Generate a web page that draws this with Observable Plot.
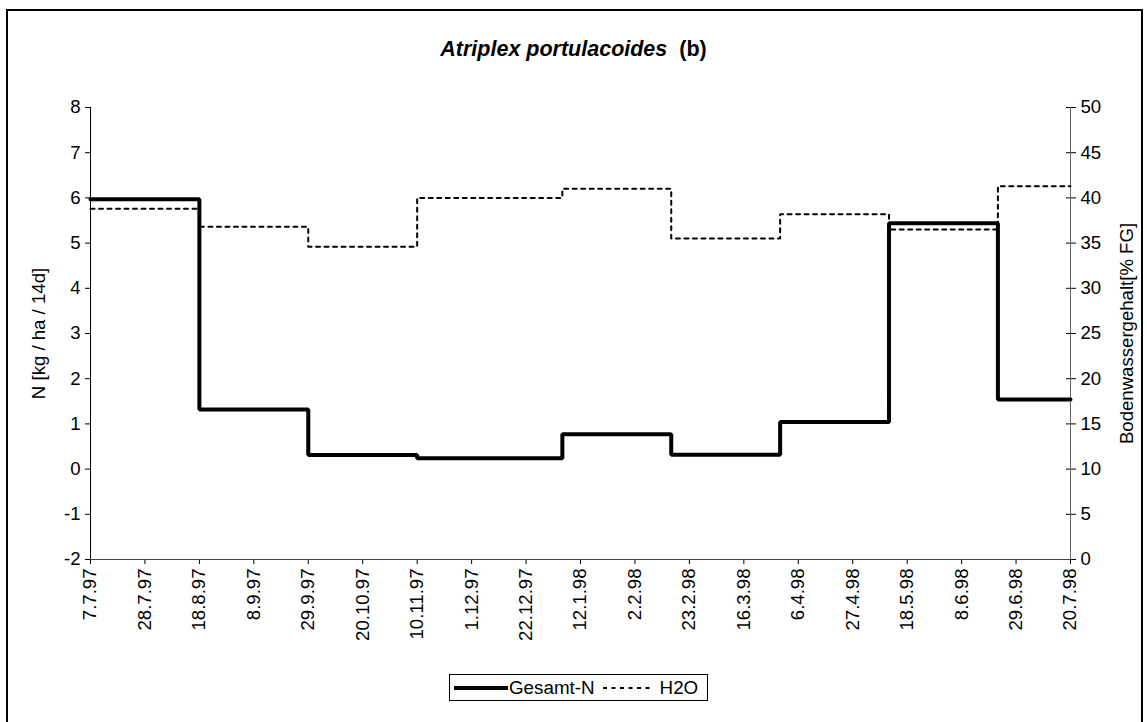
<!DOCTYPE html>
<html><head><meta charset="utf-8">
<script src="https://cdn.jsdelivr.net/npm/d3@7"></script>
<script src="https://cdn.jsdelivr.net/npm/@observablehq/plot@0.6"></script>
<style>
body{margin:0;background:#fff;font-family:"Liberation Sans",Arial,sans-serif;color:#000;}
#frame{position:absolute;left:6px;top:9px;width:1133px;height:711px;border:2px solid #000;}
#chart{position:absolute;left:0;top:0;}
#title{position:absolute;left:0;width:1147px;top:39px;text-align:center;font-size:21.5px;line-height:1;font-weight:bold;white-space:pre;}
#legend{position:absolute;left:449px;top:674px;width:259px;height:27px;border:1px solid #000;box-sizing:border-box;display:flex;align-items:center;font-size:18.8px;white-space:nowrap;background:#fff;}
#legend svg{display:block;}
</style>
</head><body>
<div id="frame"></div>
<div id="chart"></div>
<div id="title"><i>Atriplex portulacoides</i>  (b)</div>
<div id="legend"></div>
<script>
// ---- data ----
const xTickLabels = ["7.7.97","28.7.97","18.8.97","8.9.97","29.9.97","20.10.97","10.11.97","1.12.97","22.12.97","12.1.98","2.2.98","23.2.98","16.3.98","6.4.98","27.4.98","18.5.98","8.6.98","29.6.98","20.7.98"];
const stepStarts = ["7.7.97","18.8.97","29.9.97","10.11.97","5.1.98","16.2.98","30.3.98","11.5.98","22.6.98"];
const periodEnd = "20.7.98";
const gesamtN = [5.97, 1.32, 0.31, 0.24, 0.77, 0.32, 1.04, 5.44, 1.54];
const h2o = [38.8, 36.8, 34.6, 40.0, 41.0, 35.5, 38.2, 36.5, 41.3];
const leftTicks = [-2,-1,0,1,2,3,4,5,6,7,8];
const rightTicks = [0,5,10,15,20,25,30,35,40,45,50];
const seriesNames = ["Gesamt-N","H2O"];

// ---- helpers ----
const parse = s => { const [d,m,y] = s.split(".").map(Number); return new Date(Date.UTC(1900 + y, m - 1, d)); };
const toLeft = v => v / 5 - 2; // right axis (0..50) onto left axis (-2..8)
const toRight = v => Math.round((v + 2) * 5);

const starts = stepStarts.map(parse);
const endDate = parse(periodEnd);
const rowsN = starts.map((d, i) => ({date: d, v: gesamtN[i]})).concat([{date: endDate, v: gesamtN[gesamtN.length - 1]}]);
const rowsH = starts.map((d, i) => ({date: d, v: h2o[i]})).concat([{date: endDate, v: h2o[h2o.length - 1]}]);
const tickDates = xTickLabels.map(parse);
const labelByTime = new Map(tickDates.map((d, i) => [+d, xTickLabels[i]]));

const FS = 18.6;
const LFS = 18.6;
const chart = Plot.plot({
  width: 1147,
  height: 680,
  marginLeft: 90,
  marginRight: 77,
  marginTop: 107,
  marginBottom: 121,
  style: {fontFamily: "'Liberation Sans', Arial, sans-serif", fontSize: FS + "px", background: "transparent", color: "#000", overflow: "visible"},
  x: {type: "utc", domain: [tickDates[0], tickDates[tickDates.length - 1]]},
  y: {domain: [-2, 8]},
  marks: [
    Plot.axisX(tickDates, {tickFormat: d => labelByTime.get(+d), tickRotate: -90, tickSize: 5, tickPadding: 4, fontSize: FS, label: null}),
    Plot.axisY(leftTicks, {anchor: "left", tickSize: 5, tickPadding: 5, fontSize: FS, tickFormat: d => String(d), label: null}),
    Plot.axisY(leftTicks, {anchor: "left", tickSize: 0, tickFormat: () => "", fontSize: LFS, label: "N [kg / ha / 14d]", labelAnchor: "center", labelArrow: "none", labelOffset: 59}),
    Plot.axisY(rightTicks.map(toLeft), {anchor: "right", tickSize: 5, dx: -5, tickFormat: () => "", label: null}),
    Plot.axisY(rightTicks.map(toLeft), {anchor: "right", tickSize: 5, tickPadding: 5, fontSize: FS, tickFormat: v => String(toRight(v)), label: null}),
    Plot.axisY(rightTicks.map(toLeft), {anchor: "right", tickSize: 0, tickFormat: () => "", fontSize: LFS, label: "Bodenwassergehalt[% FG]", labelAnchor: "center", labelArrow: "none", labelOffset: 62}),
    Plot.ruleX([tickDates[0]], {stroke: "#000", strokeWidth: 1}),
    Plot.ruleX([tickDates[tickDates.length - 1]], {stroke: "#666", strokeWidth: 1}),
    Plot.ruleY([-2], {stroke: "#444", strokeWidth: 1}),
    Plot.line(rowsH, {x: "date", y: d => toLeft(d.v), curve: "step-after", stroke: "#000", strokeWidth: 2, strokeDasharray: "4,4.5"}),
    Plot.line(rowsN, {x: "date", y: "v", curve: "step-after", stroke: "#000", strokeWidth: 4, strokeLinejoin: "miter"})
  ]
});
document.getElementById("chart").appendChild(chart);

// ---- legend ----
const legend = document.getElementById("legend");
function swatch(dashed) {
  const ns = "http://www.w3.org/2000/svg";
  const s = document.createElementNS(ns, "svg");
  s.setAttribute("width", 58); s.setAttribute("height", 10);
  const l = document.createElementNS(ns, "line");
  l.setAttribute("x1", dashed ? 8 : 4); l.setAttribute("x2", 58);
  l.setAttribute("y1", 5); l.setAttribute("y2", 5);
  l.setAttribute("stroke", "#000");
  l.setAttribute("stroke-width", dashed ? 2 : 4);
  if (dashed) l.setAttribute("stroke-dasharray", "4,4.5");
  s.appendChild(l);
  return s;
}
seriesNames.forEach((name, i) => {
  legend.appendChild(swatch(i === 1));
  const t = document.createElement("span");
  t.textContent = name;
  t.style.marginLeft = i === 1 ? "7px" : "1px";
  legend.appendChild(t);
});
</script>
</body></html>
